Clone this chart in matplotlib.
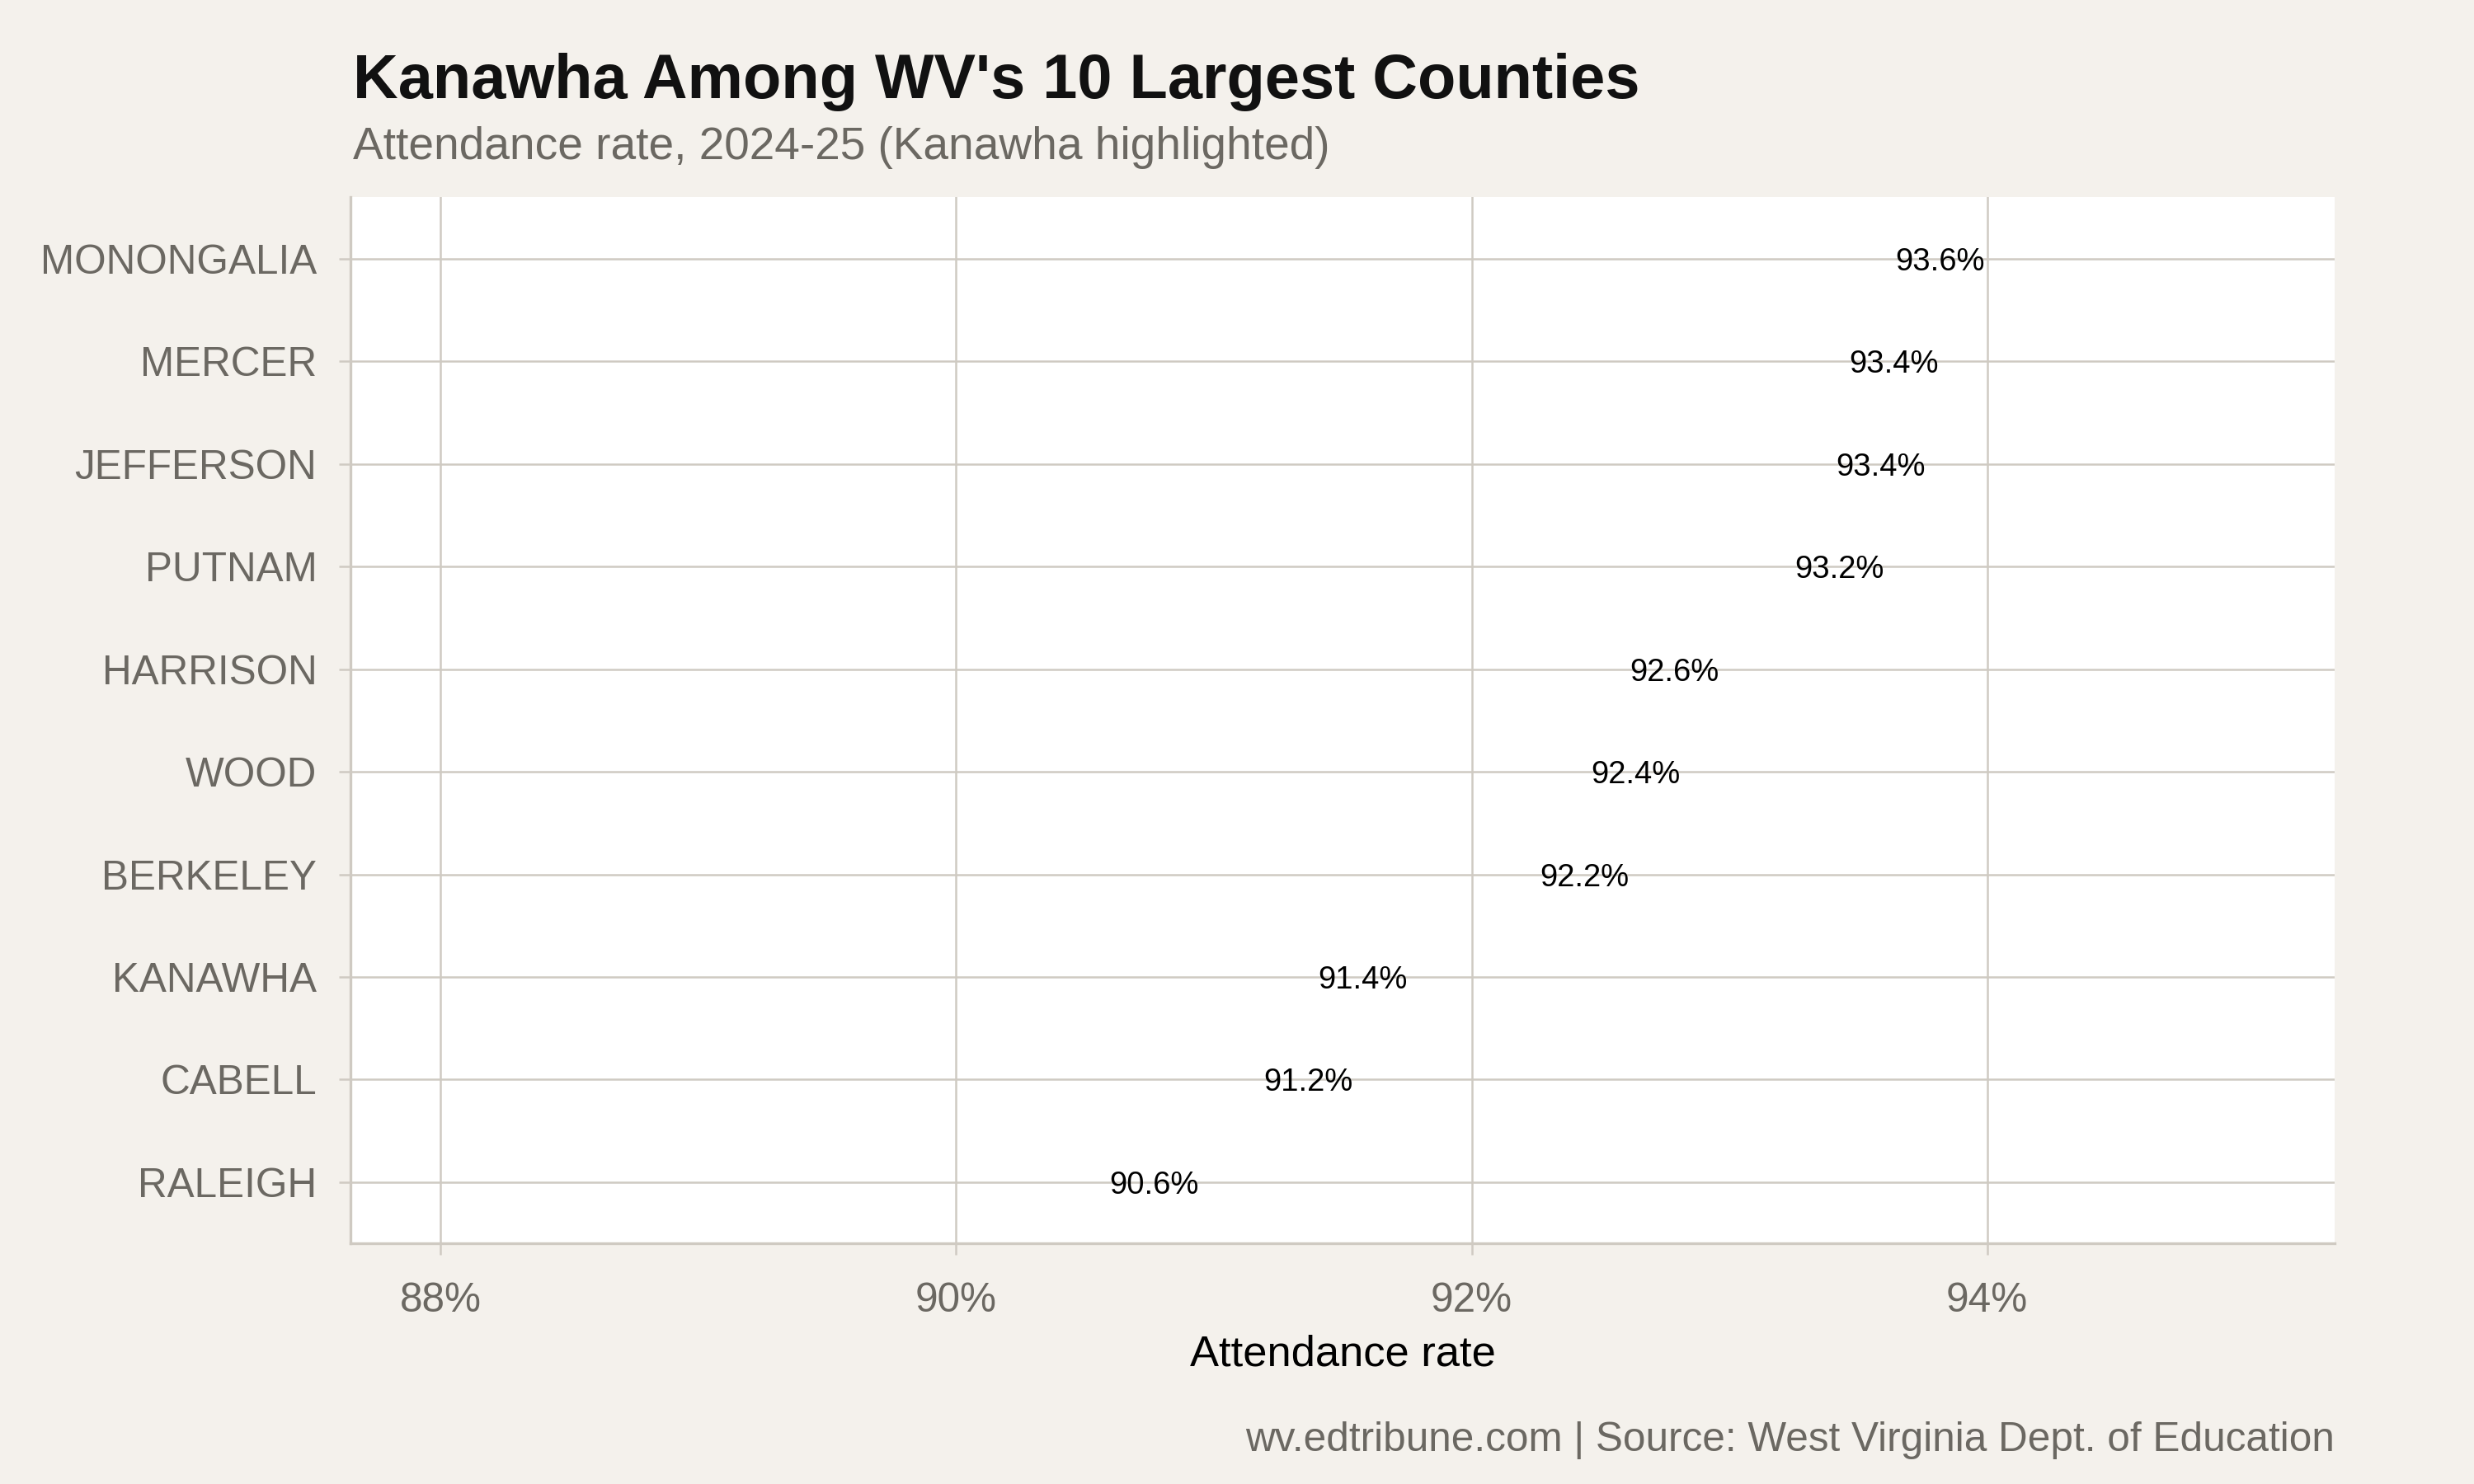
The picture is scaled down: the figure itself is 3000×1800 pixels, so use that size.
import matplotlib.pyplot as plt

# county attendance rates 2024-25, bottom to top
counties = ['RALEIGH', 'CABELL', 'KANAWHA', 'BERKELEY', 'WOOD',
            'HARRISON', 'PUTNAM', 'JEFFERSON', 'MERCER', 'MONONGALIA']
rates = [90.57, 91.17, 91.38, 92.24, 92.44, 92.59, 93.23, 93.39, 93.44, 93.62]
xticks = [88, 90, 92, 94]
xtick_labels = ['88%', '90%', '92%', '94%']

bg = '#F4F1EC'
grid = '#CFCAC2'
gray = '#6B6862'

plt.rcParams['font.family'] = ['Liberation Sans', 'DejaVu Sans']

fig = plt.figure(figsize=(10, 6), dpi=300, facecolor=bg)
ax = fig.add_axes([0.1417, 0.162, 0.8021, 0.705])
ax.set_facecolor('white')

y = list(range(1, len(counties) + 1))
for yi, r in zip(y, rates):
    ax.annotate('%.1f%%' % r, (r, yi), xytext=(1.8, 0), textcoords='offset points',
                ha='left', va='center_baseline', fontsize=9.2, color='black')

ax.set_xlim(87.65, 95.35)
ax.set_ylim(0.4, 10.6)
ax.set_yticks(y)
ax.set_yticklabels(counties)
ax.set_xticks(xticks)
ax.set_xticklabels(xtick_labels)

ax.grid(True, color=grid, linewidth=0.6)
ax.set_axisbelow(True)
for s in ['top', 'right']:
    ax.spines[s].set_visible(False)
for s in ['left', 'bottom']:
    ax.spines[s].set_color(grid)
    ax.spines[s].set_linewidth(0.8)
ax.tick_params(axis='both', colors=grid, length=3.3, width=0.6, labelsize=11.9,
               labelcolor=gray)
ax.tick_params(axis='x', pad=8)
ax.tick_params(axis='y', pad=6.5)

ax.set_xlabel('Attendance rate', fontsize=12.6, color='black', labelpad=4)

fig.text(0.1428, 0.934, "Kanawha Among WV's 10 Largest Counties", fontsize=18.2,
         fontweight='bold', color='#111111', ha='left', va='baseline')
fig.text(0.1428, 0.893, 'Attendance rate, 2024-25 (Kanawha highlighted)', fontsize=13.2,
         color=gray, ha='left', va='baseline')
fig.text(0.9438, 0.022, 'wv.edtribune.com | Source: West Virginia Dept. of Education',
         fontsize=11.9, color=gray, ha='right', va='baseline')

fig.savefig('out.png', dpi=300, facecolor=bg)
